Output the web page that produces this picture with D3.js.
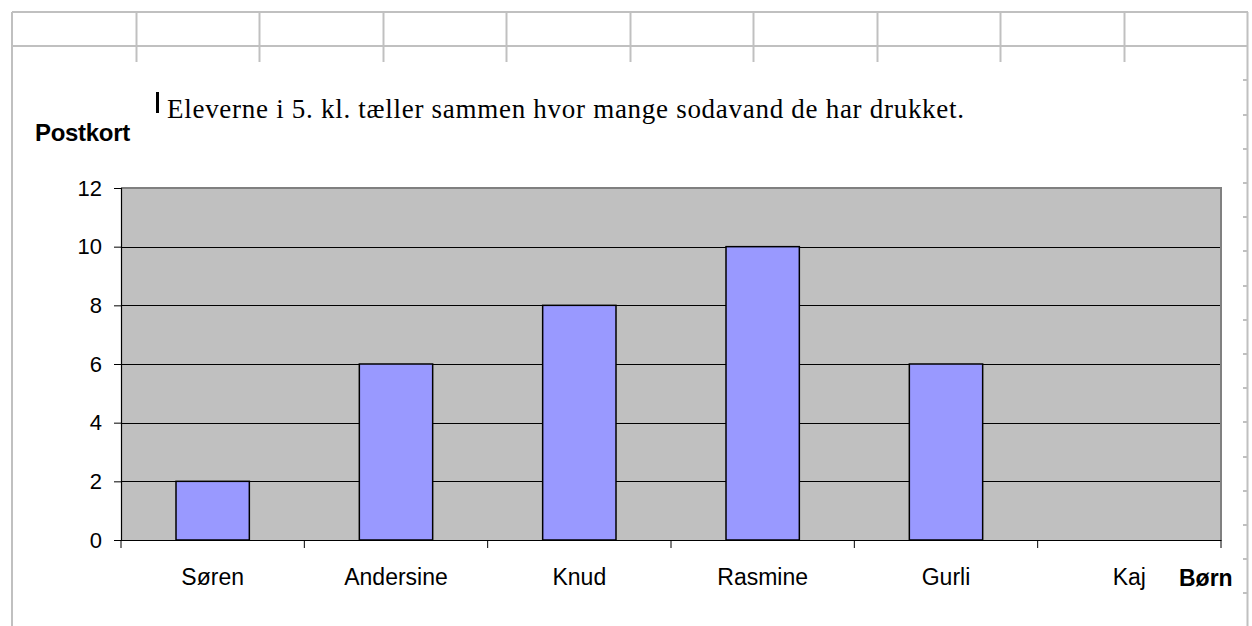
<!DOCTYPE html>
<html lang="da">
<head>
<meta charset="utf-8">
<script src="https://d3js.org/d3.v7.min.js"></script>
<title>Sodavand</title>
<style>
  body { margin: 0; background: #fff; }
  svg { display: block; }
</style>
</head>
<body>
<svg width="1252" height="626"></svg>
<script>
// data
var names = ["Søren", "Andersine", "Knud", "Rasmine", "Gurli", "Kaj"];
var values = [2, 6, 8, 10, 6, null];
var yTicks = [0, 2, 4, 6, 8, 10, 12];
var title = "Eleverne i 5. kl. tæller sammen hvor mange sodavand de har drukket.";
var yTitle = "Postkort";
var xTitle = "Børn";

var svg = d3.select("svg");
var W = 1252, H = 626;

// regneark-gitter bagved
var grid = svg.append("g").attr("stroke", "#c0c0c0").attr("stroke-width", 2);
var colW = 123.5, rowH = 34.2;
grid.append("line").attr("x1", 12).attr("x2", 1248).attr("y1", 12).attr("y2", 12);
grid.append("line").attr("x1", 12).attr("x2", 1248).attr("y1", 46).attr("y2", 46);
for (var c = 1; c < 10; c++) {
  var cx = Math.round(12 + c * colW) + 0.5;
  grid.append("line").attr("x1", cx).attr("x2", cx).attr("y1", 12).attr("y2", 62);
}
grid.append("line").attr("x1", 12).attr("x2", 12).attr("y1", 12).attr("y2", H);
grid.append("line").attr("x1", 1247.5).attr("x2", 1247.5).attr("y1", 12).attr("y2", H);
for (var r = 2; 12 + r * rowH < H; r++) {
  var ry = Math.round(12 + r * rowH);
  grid.append("line").attr("x1", 1243).attr("x2", 1247).attr("y1", ry).attr("y2", ry);
}

// diagram
var m = {left: 121, top: 188, right: 1221, bottom: 540};
var x = d3.scaleBand().domain(names).range([m.left, m.right]).paddingInner(0).paddingOuter(0);
var y = d3.scaleLinear().domain([0, 12]).range([m.bottom, m.top]);

svg.append("rect")
  .attr("x", m.left).attr("y", m.top)
  .attr("width", m.right - m.left).attr("height", m.bottom - m.top)
  .attr("fill", "#c0c0c0");

// gitterlinjer
svg.append("g").selectAll("line").data(yTicks.filter(function(d){ return d > 0 && d < 12; }))
  .enter().append("line")
  .attr("x1", m.left).attr("x2", m.right)
  .attr("y1", function(d){ return Math.round(y(d)) + 0.5; })
  .attr("y2", function(d){ return Math.round(y(d)) + 0.5; })
  .attr("stroke", "#000").attr("stroke-width", 1);

// ramme top + højre
svg.append("path")
  .attr("d", "M" + m.left + "," + m.top + "H" + m.right + "V" + m.bottom)
  .attr("fill", "none").attr("stroke", "#808080").attr("stroke-width", 2);

// søjler
var bw = x.bandwidth() * 0.4;
svg.append("g").selectAll("rect").data(names.filter(function(d, i){ return values[i] != null; }))
  .enter().append("rect")
  .attr("x", function(d){ return x(d) + (x.bandwidth() - bw) / 2; })
  .attr("width", bw)
  .attr("y", function(d){ return y(values[names.indexOf(d)]); })
  .attr("height", function(d){ return y(0) - y(values[names.indexOf(d)]); })
  .attr("fill", "#9999ff").attr("stroke", "#000").attr("stroke-width", 1.5);

// y-akse
var yAxis = d3.axisLeft(y).tickValues(yTicks).tickSize(7).tickPadding(12);
var ga = svg.append("g").attr("transform", "translate(" + m.left + ",0)").call(yAxis);
ga.select(".domain").attr("stroke", "#000").attr("stroke-width", 1.2);
ga.selectAll("text").attr("font-family", "Liberation Sans, Arial, sans-serif")
  .attr("font-size", 22).attr("fill", "#000");

// x-akse
var xAxis = d3.axisBottom(x).tickSize(0).tickPadding(29);
var gx = svg.append("g").attr("transform", "translate(0," + m.bottom + ")").call(xAxis);
gx.select(".domain").attr("stroke", "#000").attr("stroke-width", 1.2);
gx.selectAll("text").attr("font-family", "Liberation Sans, Arial, sans-serif")
  .attr("font-size", 23).attr("fill", "#000");
// skillestreger mellem kategorier
var bounds = names.map(function(d){ return x(d); }).concat([m.right]);
gx.selectAll(".sep").data(bounds).enter().append("line")
  .attr("x1", function(d){ return d; }).attr("x2", function(d){ return d; })
  .attr("y1", 0).attr("y2", 8).attr("stroke", "#000");

// titler
svg.append("text").attr("x", 35).attr("y", 141)
  .attr("font-family", "Liberation Sans, Arial, sans-serif").attr("font-weight", "bold")
  .attr("font-size", 24).attr("letter-spacing", -0.3).text(yTitle);
svg.append("text").attr("x", 1179).attr("y", 586)
  .attr("font-family", "Liberation Sans, Arial, sans-serif").attr("font-weight", "bold")
  .attr("font-size", 23).text(xTitle);
svg.append("rect").attr("x", 156).attr("y", 92).attr("width", 3).attr("height", 21).attr("fill", "#000");
svg.append("text").attr("x", 167).attr("y", 118)
  .attr("font-family", "Liberation Serif, Times New Roman, serif")
  .attr("font-size", 27).attr("textLength", 797).attr("lengthAdjust", "spacing")
  .text(title);
</script>
</body>
</html>
